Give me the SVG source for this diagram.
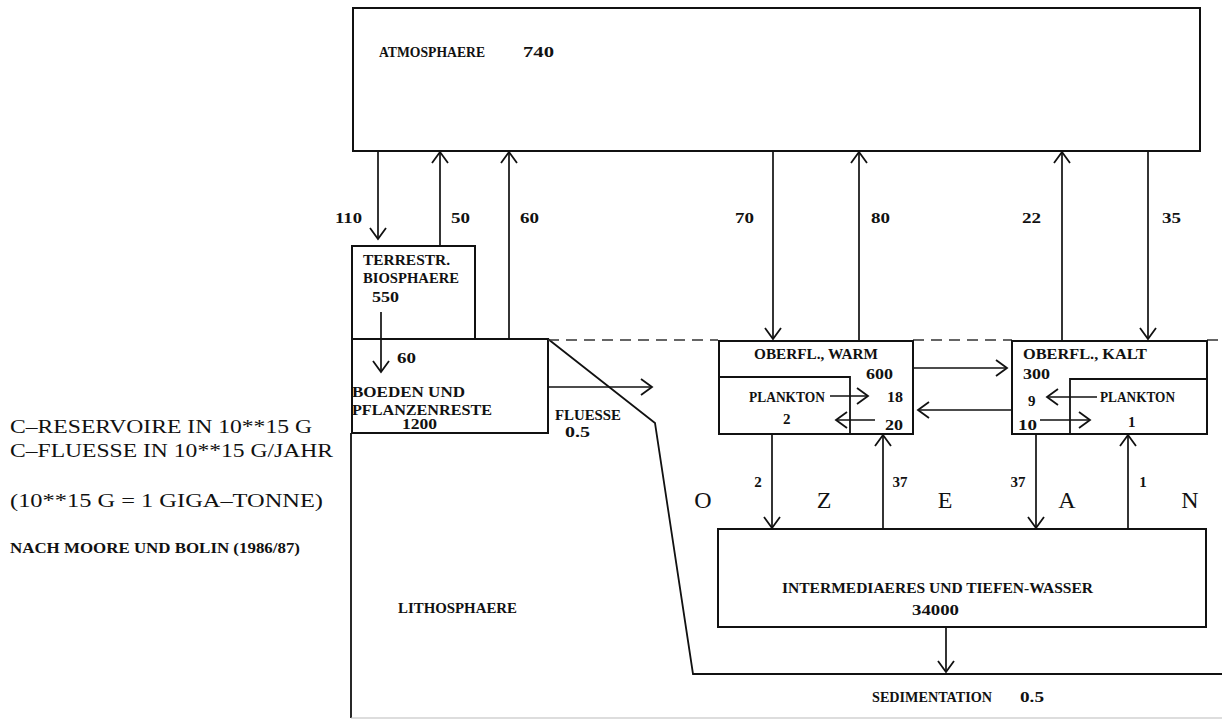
<svg xmlns="http://www.w3.org/2000/svg" width="1222" height="721" viewBox="0 0 1222 721">
<defs>
<marker id="ah" markerUnits="userSpaceOnUse" markerWidth="30" markerHeight="30" viewBox="-15 -15 30 30" refX="0" refY="0" orient="auto" overflow="visible">
<path d="M-11,-8 L0,0 L-11,8" fill="none" stroke="#111" stroke-width="1.8"/>
</marker>
</defs>
<style>
.box{fill:none;stroke:#111;stroke-width:2}
.ln{fill:none;stroke:#111;stroke-width:1.8}
.ar{fill:none;stroke:#111;stroke-width:1.7;marker-end:url(#ah)}
.t{font-family:"Liberation Serif",serif;font-weight:bold;font-size:15px;fill:#111}
.lg{font-family:"Liberation Serif",serif;font-size:18px;fill:#111}
.big{font-family:"Liberation Serif",serif;font-size:24px;fill:#111}
</style>
<rect width="1222" height="721" fill="#fff"/>

<g id="atmosphaere">
<rect class="box" x="353" y="8" width="847" height="143"/>
<text class="t" x="379" y="57" textLength="106" lengthAdjust="spacingAndGlyphs">ATMOSPHAERE</text>
<text class="t" x="523" y="57" textLength="31" lengthAdjust="spacingAndGlyphs">740</text>
</g>

<g id="terrestr">
<rect class="box" x="352" y="246" width="123" height="93"/>
<text class="t" x="363" y="265" textLength="87" lengthAdjust="spacingAndGlyphs">TERRESTR.</text>
<text class="t" x="363" y="283" textLength="96" lengthAdjust="spacingAndGlyphs">BIOSPHAERE</text>
<text class="t" x="372" y="302" textLength="27" lengthAdjust="spacingAndGlyphs">550</text>
</g>

<g id="boeden">
<rect class="box" x="352" y="339" width="196" height="94"/>
<text class="t" x="352" y="397" textLength="113" lengthAdjust="spacingAndGlyphs">BOEDEN UND</text>
<text class="t" x="352" y="415" textLength="140" lengthAdjust="spacingAndGlyphs">PFLANZENRESTE</text>
<text class="t" x="402" y="429" textLength="35" lengthAdjust="spacingAndGlyphs">1200</text>
</g>

<g id="lithosphaere">
<path class="ln" d="M351,433 L351,718"/>
<path class="ln" d="M548,339 L655,423 L693,674 L1222,674"/>
<path d="M351,718 L1222,718" fill="none" stroke="#bbb" stroke-width="1.2"/>
<path d="M548,340 L718,340 M913,340 L1012,340 M1207,340 L1222,340" fill="none" stroke="#333" stroke-width="1.5" stroke-dasharray="11 7"/>
<text class="t" x="398" y="613" textLength="119" lengthAdjust="spacingAndGlyphs">LITHOSPHAERE</text>
</g>

<g id="oberfl-warm">
<rect class="box" x="719" y="341" width="194" height="93"/>
<path class="ln" d="M719,377 L850,377 L850,434"/>
<text class="t" x="754" y="359" textLength="124" lengthAdjust="spacingAndGlyphs">OBERFL., WARM</text>
<text class="t" x="866" y="379" textLength="27" lengthAdjust="spacingAndGlyphs">600</text>
<text class="t" x="749" y="402" textLength="76" lengthAdjust="spacingAndGlyphs">PLANKTON</text>
<text class="t" x="783" y="424">2</text>
<text class="t" x="887" y="402" textLength="16" lengthAdjust="spacingAndGlyphs">18</text>
<text class="t" x="885" y="430" textLength="18" lengthAdjust="spacingAndGlyphs">20</text>
</g>

<g id="oberfl-kalt">
<rect class="box" x="1012" y="341" width="195" height="93"/>
<path class="ln" d="M1207,379 L1070,379 L1070,434"/>
<text class="t" x="1023" y="359" textLength="124" lengthAdjust="spacingAndGlyphs">OBERFL., KALT</text>
<text class="t" x="1023" y="379" textLength="27" lengthAdjust="spacingAndGlyphs">300</text>
<text class="t" x="1028" y="406">9</text>
<text class="t" x="1100" y="402" textLength="75" lengthAdjust="spacingAndGlyphs">PLANKTON</text>
<text class="t" x="1018" y="430" textLength="19" lengthAdjust="spacingAndGlyphs">10</text>
<text class="t" x="1128" y="427">1</text>
</g>

<g id="tiefenwasser">
<rect class="box" x="718" y="529" width="488" height="98"/>
<text class="t" x="782" y="593" textLength="311" lengthAdjust="spacingAndGlyphs">INTERMEDIAERES UND TIEFEN-WASSER</text>
<text class="t" x="912" y="615" textLength="47" lengthAdjust="spacingAndGlyphs">34000</text>
</g>

<g id="ozean">
<text class="big" x="703" y="508" text-anchor="middle">O</text>
<text class="big" x="824" y="508" text-anchor="middle">Z</text>
<text class="big" x="945" y="508" text-anchor="middle">E</text>
<text class="big" x="1067" y="508" text-anchor="middle">A</text>
<text class="big" x="1190" y="508" text-anchor="middle">N</text>
</g>

<g id="connectors">
<path class="ar" d="M378,151 L378,239"/>
<path class="ar" d="M440,246 L440,152"/>
<path class="ar" d="M509,339 L509,152"/>
<path class="ar" d="M773,151 L773,339"/>
<path class="ar" d="M859,341 L859,152"/>
<path class="ar" d="M1062,341 L1062,152"/>
<path class="ar" d="M1148,151 L1148,339"/>
<path class="ar" d="M381,312 L381,372"/>
<path class="ar" d="M548,387 L652,387"/>
<path class="ar" d="M913,368 L1007,368"/>
<path class="ar" d="M1012,410 L918,410"/>
<path class="ar" d="M830,396 L868,396"/>
<path class="ar" d="M875,420 L836,420"/>
<path class="ar" d="M1097,397 L1047,397"/>
<path class="ar" d="M1040,420 L1090,420"/>
<path class="ar" d="M772,434 L772,528"/>
<path class="ar" d="M883,529 L883,435"/>
<path class="ar" d="M1036,434 L1036,528"/>
<path class="ar" d="M1128,529 L1128,435"/>
<path class="ar" d="M946,627 L946,672"/>
</g>

<g id="labels">
<text class="t" x="335" y="223" textLength="27" lengthAdjust="spacingAndGlyphs">110</text>
<text class="t" x="451" y="223" textLength="19" lengthAdjust="spacingAndGlyphs">50</text>
<text class="t" x="520" y="223" textLength="19" lengthAdjust="spacingAndGlyphs">60</text>
<text class="t" x="735" y="223" textLength="19" lengthAdjust="spacingAndGlyphs">70</text>
<text class="t" x="871" y="223" textLength="19" lengthAdjust="spacingAndGlyphs">80</text>
<text class="t" x="1022" y="223" textLength="19" lengthAdjust="spacingAndGlyphs">22</text>
<text class="t" x="1162" y="223" textLength="19" lengthAdjust="spacingAndGlyphs">35</text>
<text class="t" x="397" y="363" textLength="19" lengthAdjust="spacingAndGlyphs">60</text>
<text class="t" x="555" y="420" textLength="66" lengthAdjust="spacingAndGlyphs">FLUESSE</text>
<text class="t" x="565" y="437" textLength="25" lengthAdjust="spacingAndGlyphs">0.5</text>
<text class="t" x="758" y="487" text-anchor="middle">2</text>
<text class="t" x="900" y="487" text-anchor="middle">37</text>
<text class="t" x="1018" y="487" text-anchor="middle">37</text>
<text class="t" x="1143" y="487" text-anchor="middle">1</text>
<text class="t" x="872" y="702" textLength="120" lengthAdjust="spacingAndGlyphs">SEDIMENTATION</text>
<text class="t" x="1020" y="702" textLength="24" lengthAdjust="spacingAndGlyphs">0.5</text>
</g>

<g id="legende">
<text class="lg" x="10" y="433" textLength="302" lengthAdjust="spacingAndGlyphs">C–RESERVOIRE IN 10**15 G</text>
<text class="lg" x="10" y="457" textLength="323" lengthAdjust="spacingAndGlyphs">C–FLUESSE IN 10**15 G/JAHR</text>
<text class="lg" x="10" y="507" textLength="313" lengthAdjust="spacingAndGlyphs">(10**15 G = 1 GIGA–TONNE)</text>
<text class="t" x="10" y="553" textLength="290" lengthAdjust="spacingAndGlyphs">NACH MOORE UND BOLIN (1986/87)</text>
</g>
</svg>
